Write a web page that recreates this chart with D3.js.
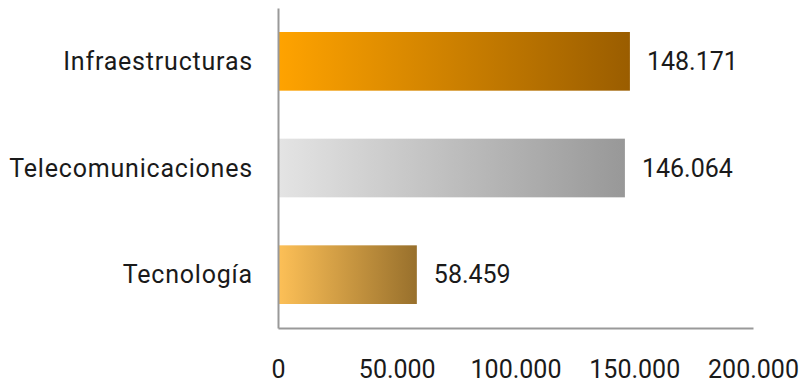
<!DOCTYPE html>
<html>
<head>
<meta charset="utf-8">
<script src="https://cdn.jsdelivr.net/npm/d3@7"></script>
<style>
  body { margin: 0; background: #fff; }
  text { font-family: Roboto, "DejaVu Sans", sans-serif; fill: #1a1a1a; }
</style>
</head>
<body>
<div id="chart"></div>
<script>
var categories = ["Infraestructuras", "Telecomunicaciones", "Tecnología"];
var values = [148171, 146064, 58459];
var valueLabels = ["148.171", "146.064", "58.459"];
var tickValues = [0, 50000, 100000, 150000, 200000];
var tickLabels = ["0", "50.000", "100.000", "150.000", "200.000"];

var svgWidth = 802;
var svgHeight = 384;
var margin = { top: 8, right: 49, bottom: 56, left: 278 };
var width = svgWidth - margin.left - margin.right;
var height = svgHeight - margin.top - margin.bottom;

var svg = d3.select("#chart")
  .append("svg")
  .attr("width", svgWidth)
  .attr("height", svgHeight);

// gradients for each bar
var gradColors = [
  ["#ffa300", "#9a5d00"],
  ["#e4e4e4", "#989898"],
  ["#fdc057", "#98702c"]
];
var defs = svg.append("defs");
gradColors.forEach(function(c, i) {
  var g = defs.append("linearGradient")
    .attr("id", "grad" + i)
    .attr("x1", "0%").attr("x2", "100%")
    .attr("y1", "0%").attr("y2", "0%");
  g.append("stop").attr("offset", "0%").attr("stop-color", c[0]);
  g.append("stop").attr("offset", "100%").attr("stop-color", c[1]);
});

var chartGroup = svg.append("g")
  .attr("transform", `translate(${margin.left}, ${margin.top})`);

var x = d3.scaleLinear()
  .domain([0, 200000])
  .range([0, width]);

var y = d3.scaleBand()
  .domain(categories)
  .range([0, height])
  .paddingInner(0.45)
  .paddingOuter(0.225);

// Bars
chartGroup.selectAll("rect.bar")
  .data(values)
  .enter()
  .append("rect")
  .attr("class", "bar")
  .attr("x", 0)
  .attr("y", (d, i) => y(categories[i]))
  .attr("width", d => x(d))
  .attr("height", y.bandwidth())
  .attr("fill", (d, i) => "url(#grad" + i + ")");

// Value labels
chartGroup.selectAll("text.val")
  .data(values)
  .enter()
  .append("text")
  .attr("class", "val")
  .attr("x", d => x(d) + 17)
  .attr("y", (d, i) => y(categories[i]) + y.bandwidth() / 2)
  .attr("dy", "0.35em")
  .style("font-size", "25px")
  .text((d, i) => valueLabels[i]);

// Category labels
chartGroup.selectAll("text.cat")
  .data(categories)
  .enter()
  .append("text")
  .attr("class", "cat")
  .attr("x", -25)
  .attr("y", d => y(d) + y.bandwidth() / 2)
  .attr("dy", "0.35em")
  .attr("text-anchor", "end")
  .style("font-size", "25px")
  .style("letter-spacing", "0.8px")
  .text(d => d);

// Axis lines
var bottomAxis = d3.axisBottom(x)
  .tickValues(tickValues)
  .tickSize(0)
  .tickPadding(32)
  .tickFormat((d, i) => tickLabels[i]);

var xAxisG = chartGroup.append("g")
  .attr("transform", `translate(0, ${height})`)
  .call(bottomAxis);
xAxisG.select(".domain").attr("stroke", "#999").attr("stroke-width", 2);
xAxisG.selectAll("text")
  .style("font-size", "25px")
  .style("fill", "#1a1a1a")
  .style("font-family", "Roboto, sans-serif");

var leftAxis = d3.axisLeft(y).tickSize(0).tickFormat("");
var yAxisG = chartGroup.append("g").call(leftAxis);
yAxisG.select(".domain").attr("stroke", "#999").attr("stroke-width", 2);
</script>
</body>
</html>
